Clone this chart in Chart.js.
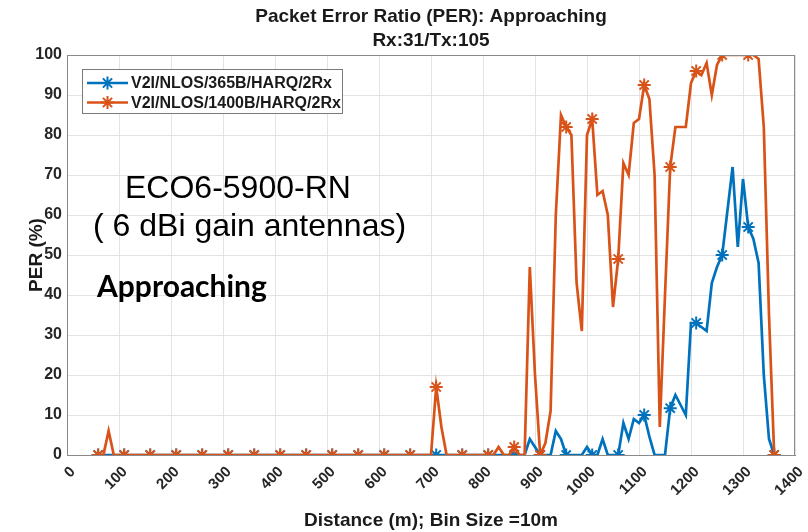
<!DOCTYPE html>
<html>
<head>
<meta charset="utf-8">
<script src="https://cdn.jsdelivr.net/npm/chart.js@4.4.0/dist/chart.umd.min.js"></script>
<style>
  body { margin: 0; background: #fff; }
  #wrap { width: 808px; height: 532px; }
</style>
</head>
<body>
<div id="wrap"><canvas id="perChart" width="808" height="532"></canvas></div>
<script>
// Bins de distância (m): primeiro bin em 60 m, passo de 10 m
const binStart = 60;
const binSize = 10;

// PER (%) - V2I/NLOS/365B/HARQ/2Rx (azul)
const per365 = [
  0, 0, 0, 0, 0, 0, 0, 0, 0, 0,          // 60-150
  0, 0, 0, 0, 0, 0, 0, 0, 0, 0,          // 160-250
  0, 0, 0, 0, 0, 0, 0, 0, 0, 0,          // 260-350
  0, 0, 0, 0, 0, 0, 0, 0, 0, 0,          // 360-450
  0, 0, 0, 0, 0, 0, 0, 0, 0, 0,          // 460-550
  0, 0, 0, 0, 0, 0, 0, 0, 0, 0,          // 560-650
  0, 0, 0, 0, 0, 0, 0, 0, 0, 0,          // 660-750
  0, 0, 0, 0, 0, 0, 0, 0, 0, 0,          // 760-850
  0, 0, 0, 4, 2, 0, 0, 0, 6, 4,          // 860-950
  0, 0, 0, 0, 2, 0, 0, 4, 0, 0,          // 960-1050
  0, 8, 4, 9, 8, 10, 4.6, 0, 0, 0,       // 1060-1150
  11.7, 15, 12.5, 10, 33, 33, 32, 31, 43, 47, // 1160-1250
  50, 61, 72, 52, 69, 57, 54, 48, 20, 4, // 1260-1350
  0                                      // 1360
];

// PER (%) - V2I/NLOS/1400B/HARQ/2Rx (laranja)
const per1400 = [
  0, 0, 6, 0, 0, 0, 0, 0, 0, 0,          // 60-150
  0, 0, 0, 0, 0, 0, 0, 0, 0, 0,          // 160-250
  0, 0, 0, 0, 0, 0, 0, 0, 0, 0,          // 260-350
  0, 0, 0, 0, 0, 0, 0, 0, 0, 0,          // 360-450
  0, 0, 0, 0, 0, 0, 0, 0, 0, 0,          // 460-550
  0, 0, 0, 0, 0, 0, 0, 0, 0, 0,          // 560-650
  0, 0, 0, 0, 0, 17, 7, 0, 0, 0,         // 660-750
  0, 0, 0, 0, 0, 0, 0, 2, 0, 0,          // 760-850
  2, 0, 0, 47, 20, 0, 3, 11, 60, 85,     // 860-950
  82, 80, 43, 31, 80, 84, 65, 66, 60, 37, // 960-1050
  49, 73, 70, 83, 84, 92.5, 89, 70, 7, 40, // 1060-1150
  72, 82, 82, 82, 93, 96, 95, 98, 90, 97.5, // 1160-1250
  100, 100, 100, 100, 100, 100, 100, 99, 82, 35, // 1260-1350
  0                                      // 1360
];

const seriesLabels = ["V2I/NLOS/365B/HARQ/2Rx", "V2I/NLOS/1400B/HARQ/2Rx"];
const xTickValues = [0, 100, 200, 300, 400, 500, 600, 700, 800, 900, 1000, 1100, 1200, 1300, 1400];
const yTickValues = [0, 10, 20, 30, 40, 50, 60, 70, 80, 90, 100];

const distances = per365.map((_, i) => binStart + i * binSize);
const toPoints = (values) => values.map((v, i) => ({ x: distances[i], y: v }));

// Marcador (asterisco) a cada 5 bins
const markerRadius = (ctx) => (ctx.dataIndex % 5 === 0 ? 6.5 : 0);

const fontMain = "'Liberation Sans', Arial, sans-serif";

// Borda do gráfico, legenda e anotações de texto
const extrasPlugin = {
  id: "extras",
  afterDraw(chart) {
    const { ctx, chartArea } = chart;
    ctx.save();

    // Caixa do eixo
    ctx.strokeStyle = "#8a8a8a";
    ctx.lineWidth = 1;
    ctx.strokeRect(chartArea.left + 0.5, chartArea.top + 0.5,
      chartArea.right - chartArea.left - 1, chartArea.bottom - chartArea.top);

    // Legenda
    const lx = 82, ly = 69, lw = 260, lh = 44;
    ctx.fillStyle = "#fff";
    ctx.fillRect(lx, ly, lw, lh);
    ctx.strokeStyle = "#7a7a7a";
    ctx.strokeRect(lx + 0.5, ly + 0.5, lw, lh);
    chart.data.datasets.forEach((ds, i) => {
      const y = ly + 14 + i * 19.5;
      ctx.strokeStyle = ds.borderColor;
      ctx.lineWidth = 2.5;
      ctx.beginPath();
      ctx.moveTo(lx + 5, y);
      ctx.lineTo(lx + 46, y);
      ctx.stroke();
      ctx.lineWidth = 2;
      Chart.helpers.drawPoint(ctx, { pointStyle: "star", radius: 6.5, rotation: 0, borderWidth: 2 }, lx + 25.5, y);
      ctx.fillStyle = "#1a1a1a";
      ctx.font = "bold 16px " + fontMain;
      ctx.textBaseline = "middle";
      ctx.textAlign = "left";
      ctx.fillText(ds.label, lx + 49, y + 1);
    });

    // Anotações
    ctx.fillStyle = "#000";
    ctx.textBaseline = "alphabetic";
    ctx.textAlign = "left";
    ctx.font = "32px " + fontMain;
    ctx.fillText("ECO6-5900-RN", 125, 198);
    ctx.fillText("( 6 dBi gain antennas)", 93, 236);
    ctx.font = "bold 30px Lato, 'Open Sans', sans-serif";
    ctx.fillText("Approaching", 97, 297);

    ctx.restore();
  },
};

const ctx = document.getElementById("perChart").getContext("2d");
const perChart = new Chart(ctx, {
  type: "line",
  data: {
    datasets: [
      {
        label: seriesLabels[0],
        data: toPoints(per365),
        borderColor: "#0072BD",
        backgroundColor: "#0072BD",
        order: 2,
      },
      {
        label: seriesLabels[1],
        data: toPoints(per1400),
        borderColor: "#D95319",
        backgroundColor: "#D95319",
        order: 1,
      },
    ],
  },
  options: {
    responsive: false,
    animation: false,
    layout: { padding: { top: 0, right: 13, bottom: 0, left: 0 } },
    elements: {
      line: { borderWidth: 2.7, tension: 0 },
      point: { pointStyle: "star", radius: markerRadius, borderWidth: 2, hoverRadius: markerRadius },
    },
    plugins: {
      legend: { display: false },
      tooltip: { enabled: false },
      title: {
        display: true,
        fullSize: false,
        text: ["Packet Error Ratio (PER): Approaching", "Rx:31/Tx:105"],
        color: "#1a1a1a",
        font: { family: fontMain, size: 19, weight: "bold", lineHeight: 1.25 },
        padding: { top: 5, bottom: 2.5 },
      },
    },
    scales: {
      x: {
        type: "linear",
        min: 0,
        max: 1400,
        afterBuildTicks: (scale) => {
          scale.ticks = xTickValues.map((v) => ({ value: v }));
        },
        afterFit: (scale) => {
          scale.height = 77;
          scale.paddingLeft = 0;
          scale.paddingRight = 0;
        },
        ticks: {
          autoSkip: false,
          minRotation: 45,
          maxRotation: 45,
          padding: 8,
          labelOffset: 6,
          color: "#262626",
          font: { family: fontMain, size: 15, weight: "bold" },
          callback: (value) => String(value),
        },
        grid: { color: "#e3e3e3", drawTicks: false },
        border: { color: "#8a8a8a" },
        title: {
          display: true,
          text: "Distance (m); Bin Size =10m",
          color: "#1a1a1a",
          font: { family: fontMain, size: 19, weight: "bold" },
          padding: { top: 2, bottom: 0 },
        },
      },
      y: {
        min: 0,
        max: 100,
        afterBuildTicks: (scale) => {
          scale.ticks = yTickValues.map((v) => ({ value: v }));
        },
        afterFit: (scale) => {
          scale.width = 67;
        },
        ticks: {
          padding: 5,
          color: "#262626",
          font: { family: fontMain, size: 16, weight: "bold" },
        },
        grid: { color: "#e3e3e3", drawTicks: false },
        border: { color: "#8a8a8a" },
        title: {
          display: true,
          text: "PER (%)",
          color: "#1a1a1a",
          font: { family: fontMain, size: 19, weight: "bold" },
          padding: { top: 25, bottom: 0 },
        },
      },
    },
  },
  plugins: [extrasPlugin],
});
</script>
</body>
</html>
